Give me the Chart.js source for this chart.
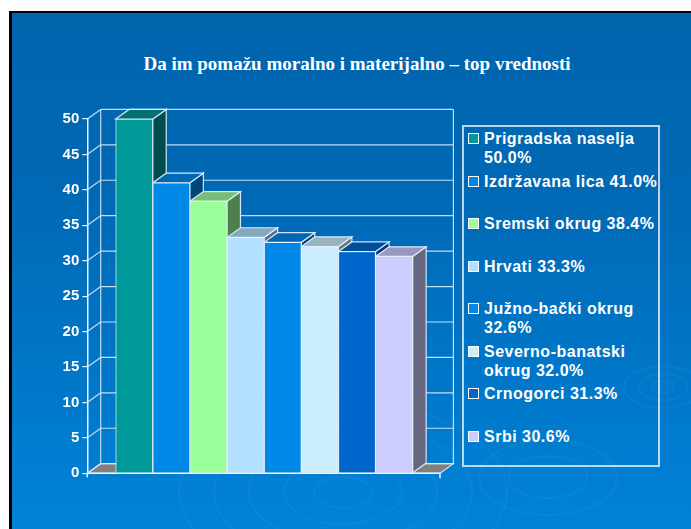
<!DOCTYPE html>
<html>
<head>
<meta charset="utf-8">
<script src="https://cdn.jsdelivr.net/npm/chart.js@4.4.1/dist/chart.umd.min.js"></script>
<style>
  html,body{margin:0;padding:0;background:#fff;width:691px;height:529px;overflow:hidden;}
  #slide{position:absolute;left:9px;top:11px;width:690px;height:520px;border-left:3px solid #000;border-top:2px solid #000;
    background:linear-gradient(180deg,#0064ad 0%,#0069b5 35%,#0075c6 65%,#0083d8 100%);overflow:hidden;}
  .ring{position:absolute;border-radius:50%;border:2px solid rgba(255,255,255,0.04);box-sizing:border-box;}
  #title{position:absolute;left:57px;width:600px;top:53px;text-align:center;color:#fff;
    font:bold 19px "Liberation Serif","Times New Roman",serif;line-height:22px;white-space:nowrap;}
  #legend{position:absolute;left:462px;top:125px;width:194px;height:338px;border:2px solid rgba(222,232,242,0.85);}
  .item{position:absolute;left:0;width:194px;height:40px;}
  .sw{position:absolute;left:4px;top:4px;width:9px;height:9px;border:1px solid #fff;}
  .txt{position:absolute;left:20px;top:0;width:178px;color:#fff;font:bold 16px "Liberation Sans",Arial,sans-serif;line-height:19px;letter-spacing:0.5px;}
  canvas{position:absolute;left:0;top:0;}
</style>
</head>
<body>
<div id="slide"></div>
<div id="title">Da im pomažu moralno i materijalno – top vrednosti</div>
<div id="legend"></div>
<canvas id="c" width="691" height="529"></canvas>
<script>
// ---- data ----
const categories = ['Prigradska naselja','Izdržavana lica','Sremski okrug','Hrvati','Južno-bački okrug','Severno-banatski okrug','Crnogorci','Srbi'];
const values = [50.0, 41.0, 38.4, 33.3, 32.6, 32.0, 31.3, 30.6];
const yMin = 0, yMax = 50, yStep = 5;

// ---- styles ----
const frontColors = ['#009999','#0088e6','#99ff99','#b3e0ff','#0088e6','#cceeff','#0066cc','#ccccff'];
const topColors   = ['#007070','#0068b4','#73bf73','#86a8bf','#0068b4','#99b3bf','#004d99','#9999bf'];
const sideColors  = ['#004d4d','#00457a','#4d804d','#5a7080','#00457a','#667780','#003a80','#666680'];

// decorative ripples
const slide = document.getElementById('slide');
[[340,490,[30,60,95,130,165]],[660,385,[12,25,40]],[1240,450,[60,110,160]],[545,475,[40,70]]].forEach(([cx,cy,rs])=>{
  rs.forEach(r=>{const d=document.createElement('div');d.className='ring';
    d.style.left=(cx-9-r)+'px';d.style.top=(cy-11-r*0.55)+'px';d.style.width=(2*r)+'px';d.style.height=(1.1*r)+'px';slide.appendChild(d);});
});

// legend (HTML)
const legend = document.getElementById('legend');
categories.forEach((c,i)=>{
  const it=document.createElement('div');it.className='item';it.style.top=(2.3+i*42.5)+'px';
  const sw=document.createElement('div');sw.className='sw';sw.style.background=frontColors[i];
  const tx=document.createElement('div');tx.className='txt';tx.textContent=c+' '+values[i].toFixed(1)+'%';
  it.appendChild(sw);it.appendChild(tx);legend.appendChild(it);
});

const DX = 13.4, DY = -9.6;
const lineCol = 'rgba(215,232,250,0.9)';

function poly(ctx, pts, fill, stroke){
  ctx.beginPath();ctx.moveTo(pts[0][0],pts[0][1]);
  for(let i=1;i<pts.length;i++)ctx.lineTo(pts[i][0],pts[i][1]);
  ctx.closePath();
  if(fill){ctx.fillStyle=fill;ctx.fill();}
  if(stroke){ctx.strokeStyle=stroke;ctx.stroke();}
}
function line(ctx,x1,y1,x2,y2){ctx.beginPath();ctx.moveTo(x1,y1);ctx.lineTo(x2,y2);ctx.stroke();}

const threeD = {
  id:'threeD',
  beforeDatasetsDraw(chart){
    const {ctx, chartArea:a, scales:{y}} = chart;
    ctx.save();
    ctx.lineWidth = 1.2;
    // floor
    poly(ctx,[[a.left,a.bottom],[a.right,a.bottom],[a.right+DX,a.bottom+DY],[a.left+DX,a.bottom+DY]],'#808080',lineCol);
    // walls
    ctx.strokeStyle = lineCol;
    y.ticks.forEach(t=>{
      const py = y.getPixelForValue(t.value);
      line(ctx,a.left+DX,py+DY,a.right+DX,py+DY);
      line(ctx,a.left,py,a.left+DX,py+DY);
    });
    line(ctx,a.left+DX,a.top+DY,a.left+DX,a.bottom+DY);
    line(ctx,a.right+DX,a.top+DY,a.right+DX,a.bottom+DY);
    // bar sides & tops
    const meta = chart.getDatasetMeta(0);
    meta.data.forEach((bar,i)=>{
      const p = bar.getProps(['x','y','base','width'],true);
      const l = p.x - p.width/2, r = p.x + p.width/2, top = p.y, base = p.base;
      poly(ctx,[[r,top],[r+DX,top+DY],[r+DX,base+DY],[r,base]],sideColors[i],'rgba(235,242,255,0.9)');
      poly(ctx,[[l,top],[r,top],[r+DX,top+DY],[l+DX,top+DY]],topColors[i],'rgba(235,242,255,0.9)');
    });
    ctx.restore();
  },
  afterDatasetsDraw(chart){
    const {ctx, chartArea:a} = chart;
    ctx.save();
    ctx.strokeStyle = '#eef4fc';
    ctx.lineWidth = 1.5;
    line(ctx,a.left,a.bottom,a.right,a.bottom);
    line(ctx,a.left,a.bottom,a.left,a.bottom+4);
    line(ctx,a.right,a.bottom,a.right,a.bottom+5);
    ctx.restore();
  }
};

new Chart(document.getElementById('c'),{
  type:'bar',
  data:{
    datasets:[{
      data: values.map((v,i)=>({x:i,y:v})),
      backgroundColor: frontColors,
      borderColor:'rgba(235,242,255,0.9)',
      borderWidth:1,
      barPercentage:1,
      categoryPercentage:1
    }]
  },
  options:{
    responsive:false,
    animation:false,
    layout:{padding:{left:0,right:251,top:119,bottom:55.7}},
    plugins:{legend:{display:false},tooltip:{enabled:false},title:{display:false}},
    scales:{
      x:{type:'linear',min:-1.265,max:8.235,offset:false,display:false,grid:{offset:false}},
      y:{min:yMin,max:yMax,
         ticks:{stepSize:yStep,color:'#ffffff',padding:3,font:{family:'"Liberation Sans", Arial, sans-serif',size:15,weight:'bold'}},
         grid:{drawOnChartArea:false,drawTicks:true,tickLength:5,color:'#eef4fc',lineWidth:1.2},
         border:{display:true,color:'#eef4fc',width:1.5},
         afterFit(s){s.width=87.3;}
      }
    }
  },
  plugins:[threeD]
});
</script>
</body>
</html>
